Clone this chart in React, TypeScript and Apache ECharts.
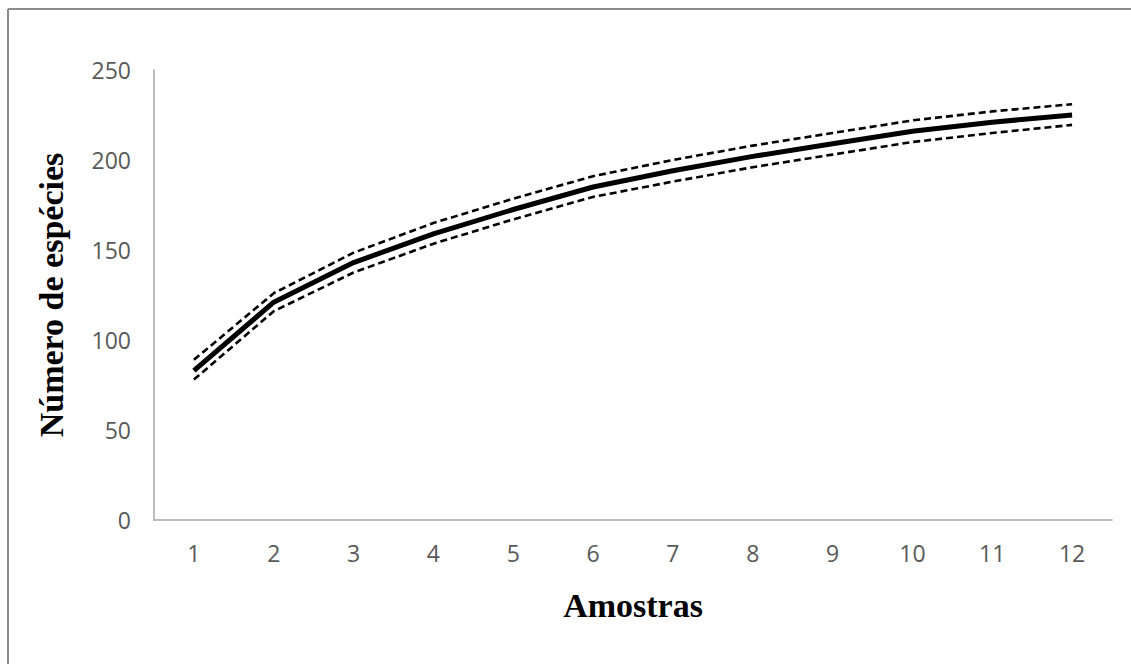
import React, { useEffect, useRef } from "react";
import * as echarts from "echarts";

const categories = ["1", "2", "3", "4", "5", "6", "7", "8", "9", "10", "11", "12"];
const meanValues = [83, 121, 143, 159, 172.5, 185, 194, 202, 209, 216, 221, 225];
const upperValues = [89, 126, 148.5, 165, 178.5, 191, 200, 208, 215, 222, 227, 231];
const lowerValues = [78, 116, 137.5, 153.5, 167, 179.5, 188, 196, 203, 210, 215, 219.5];
const yTicks = { min: 0, max: 250, interval: 50 };
const xTitle = "Amostras";
const yTitle = "Número de espécies";

export default function App() {
  const ref = useRef<HTMLDivElement>(null);
  useEffect(() => {
    if (!ref.current) return;
    const chart = echarts.init(ref.current, null, { renderer: "svg" });
    const tickFont = { fontFamily: "Open Sans", fontSize: 23, color: "#595959" };
    const dashed = {
      type: "line",
      symbol: "none",
      lineStyle: { color: "#000", width: 2.6, type: [7, 4] },
      z: 2,
    };
    chart.setOption({
      animation: false,
      backgroundColor: "#fff",
      grid: { left: 154, right: 19, top: 70, bottom: 144 },
      xAxis: {
        type: "category",
        data: categories,
        boundaryGap: true,
        axisLine: { lineStyle: { color: "#a6a6a6", width: 1.5 } },
        axisTick: { show: false },
        axisLabel: { ...tickFont, margin: 21 },
        name: xTitle,
        nameLocation: "middle",
        nameGap: 68,
        nameTextStyle: { fontFamily: "Liberation Serif", fontWeight: "bold", fontSize: 34, color: "#000" },
      },
      yAxis: {
        type: "value",
        min: yTicks.min,
        max: yTicks.max,
        interval: yTicks.interval,
        axisLine: { show: true, lineStyle: { color: "#a6a6a6", width: 1.5 } },
        axisTick: { show: false },
        splitLine: { show: false },
        axisLabel: { ...tickFont, margin: 23 },
        name: yTitle,
        nameLocation: "middle",
        nameGap: 86,
        nameTextStyle: { fontFamily: "Liberation Serif", fontWeight: "bold", fontSize: 34, color: "#000" },
      },
      graphic: [
        { type: "line", shape: { x1: 8, y1: 9, x2: 8, y2: 664 }, style: { stroke: "#8c8c8c", lineWidth: 2 } },
        { type: "line", shape: { x1: 8, y1: 9, x2: 1131, y2: 9 }, style: { stroke: "#8c8c8c", lineWidth: 2 } },
      ],
      series: [
        { ...dashed, name: "upper", data: upperValues },
        { ...dashed, name: "lower", data: lowerValues },
        {
          type: "line",
          name: "mean",
          symbol: "none",
          data: meanValues,
          lineStyle: { color: "#000", width: 5 },
          z: 3,
        },
      ],
    });
    return () => chart.dispose();
  }, []);
  return (
    <div
      ref={ref}
      style={{ position: "fixed", left: 0, top: 0, width: 1131, height: 664, background: "#fff" }}
    />
  );
}
